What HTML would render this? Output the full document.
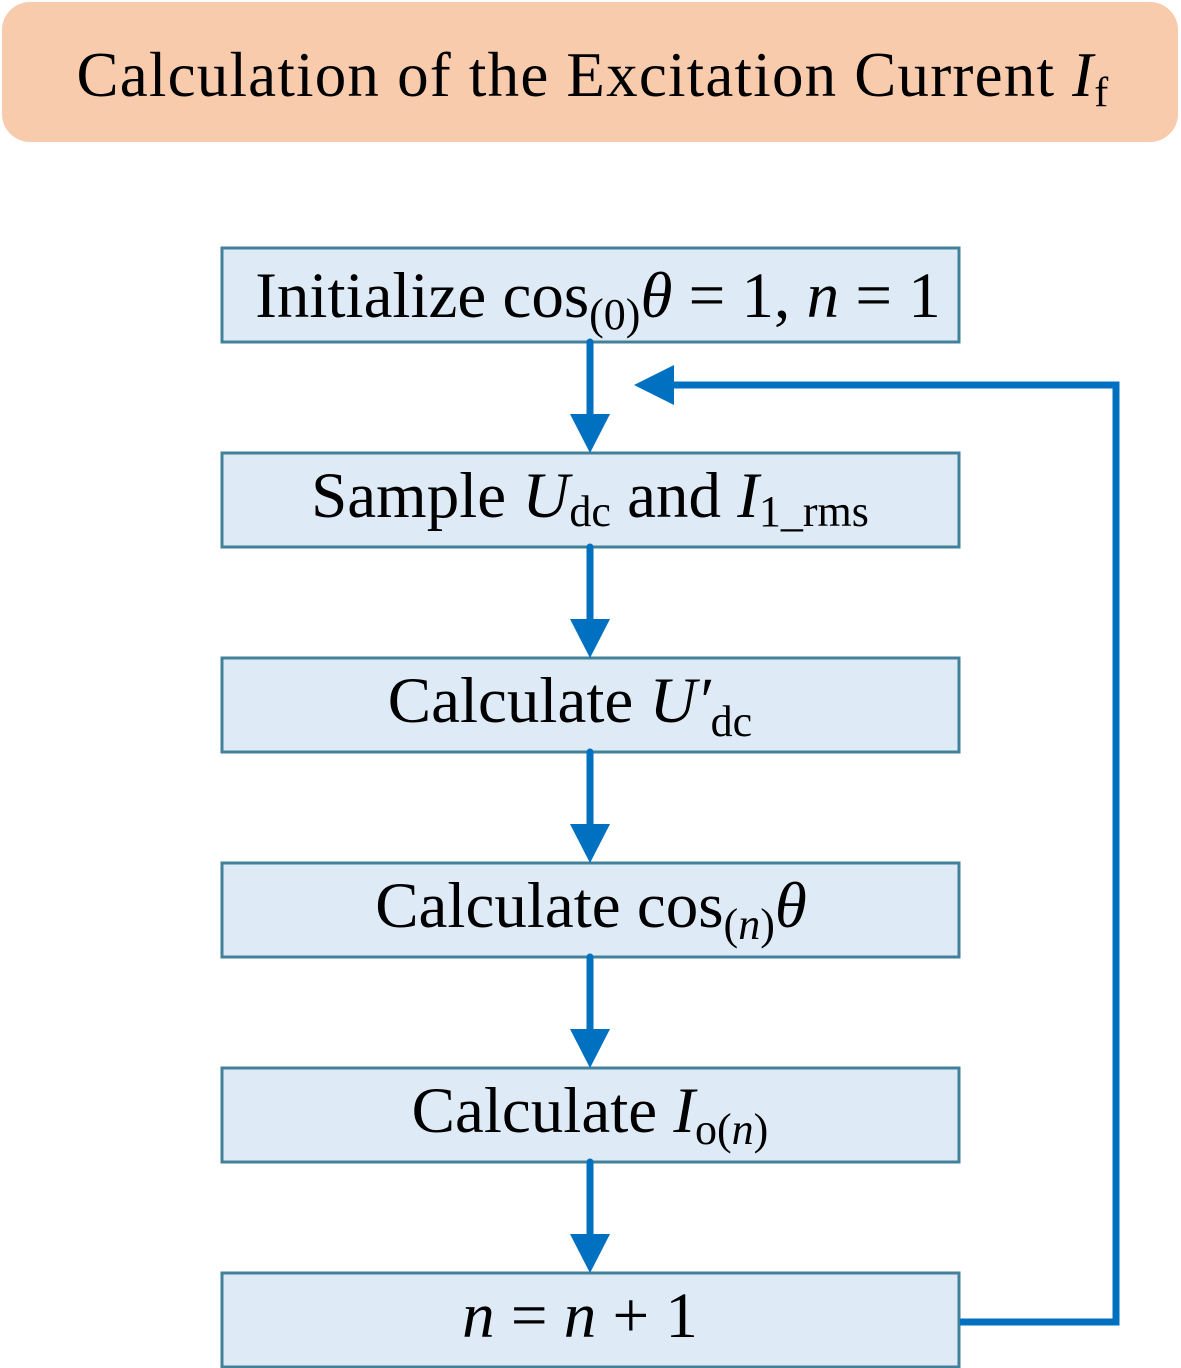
<!DOCTYPE html>
<html><head><meta charset="utf-8"><style>
html,body{margin:0;padding:0;background:#fff}
svg{display:block}
text{font-family:"Liberation Serif",serif;fill:#000}
</style></head><body>
<svg width="1181" height="1368" viewBox="0 0 1181 1368" xmlns="http://www.w3.org/2000/svg">
<rect x="2" y="2" width="1176" height="140" rx="28" fill="#f8cbad"/>
<text x="593" y="96" font-size="63" letter-spacing="1.2" text-anchor="middle">Calculation of the Excitation Current <tspan font-style="italic">I</tspan><tspan font-size="42" dy="10">f</tspan></text>

<g fill="#deebf7" stroke="#41819a" stroke-width="3">
<rect x="222" y="248" width="737" height="94"/>
<rect x="222" y="453" width="737" height="94"/>
<rect x="222" y="658" width="737" height="94"/>
<rect x="222" y="863" width="737" height="94"/>
<rect x="222" y="1068" width="737" height="94"/>
<rect x="222" y="1273" width="737" height="94"/>
</g>

<g stroke="#0070c0" stroke-width="7" stroke-linecap="round" fill="none">
<line x1="590" y1="342" x2="590" y2="420"/>
<line x1="590" y1="547" x2="590" y2="625"/>
<line x1="590" y1="752" x2="590" y2="830"/>
<line x1="590" y1="957" x2="590" y2="1035"/>
<line x1="590" y1="1162" x2="590" y2="1240"/>
<polyline points="960,1322 1116,1322 1116,385 668,385" stroke-linecap="butt"/>
</g>
<g fill="#0070c0">
<polygon points="570,414 610,414 590,453"/>
<polygon points="570,619 610,619 590,658"/>
<polygon points="570,824 610,824 590,863"/>
<polygon points="570,1029 610,1029 590,1068"/>
<polygon points="570,1234 610,1234 590,1273"/>
<polygon points="674,365 674,405 634,385"/>
</g>

<text x="598" y="317" font-size="65" text-anchor="middle">Initialize cos<tspan font-size="44" dy="12">(0)</tspan><tspan font-style="italic" dy="-12">θ</tspan> = 1, <tspan font-style="italic">n</tspan> = 1</text>
<text x="590" y="517" font-size="65" text-anchor="middle">Sample <tspan font-style="italic">U</tspan><tspan font-size="44" dy="9">dc</tspan><tspan dy="-9"> and </tspan><tspan font-style="italic">I</tspan><tspan font-size="44" dy="9">1_rms</tspan></text>
<text x="570" y="722" font-size="65" text-anchor="middle">Calculate <tspan font-style="italic">U′</tspan><tspan font-size="44" dy="14">dc</tspan></text>
<text x="591" y="927" font-size="65" text-anchor="middle">Calculate cos<tspan font-size="44" dy="12">(</tspan><tspan font-size="44" font-style="italic">n</tspan><tspan font-size="44">)</tspan><tspan font-style="italic" dy="-12">θ</tspan></text>
<text x="590" y="1132" font-size="65" text-anchor="middle">Calculate <tspan font-style="italic">I</tspan><tspan font-size="44" dy="12">o(</tspan><tspan font-size="44" font-style="italic">n</tspan><tspan font-size="44">)</tspan></text>
<text x="580" y="1337" font-size="65" text-anchor="middle"><tspan font-style="italic">n</tspan> = <tspan font-style="italic">n</tspan> + 1</text>
</svg>
</body></html>
